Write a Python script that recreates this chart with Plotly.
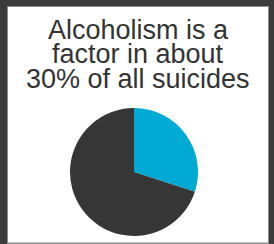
import plotly.graph_objects as go

W, H = 274, 244

labels = ["Alcoholism factor", "Other causes"]
values = [30, 70]
colors = ["#00AAD4", "#363636"]
title_lines = ["Alcoholism is a", "factor in about", "30% of all suicides"]

def px_x(x):
    return x / W

def px_y(y):
    return 1 - y / H

fig = go.Figure()

cx, cy, r = 134, 172, 64
fig.add_trace(go.Pie(
    labels=labels,
    values=values,
    sort=False,
    direction="clockwise",
    rotation=0,
    marker=dict(colors=colors, line=dict(width=0)),
    textinfo="none",
    hoverinfo="none",
    showlegend=False,
    domain=dict(x=[px_x(cx - r), px_x(cx + r)], y=[px_y(cy + r), px_y(cy - r)]),
))

shapes = [
    dict(type="rect", xref="paper", yref="paper", x0=0, x1=1, y0=0, y1=1,
         fillcolor="#3b3b3b", line=dict(width=0), layer="below"),
    dict(type="rect", xref="paper", yref="paper", x0=px_x(7), x1=px_x(269), y0=0, y1=px_y(6),
         fillcolor="#8c8c8c", line=dict(width=0), layer="below"),
    dict(type="rect", xref="paper", yref="paper", x0=px_x(8), x1=px_x(268), y0=px_y(242.5), y1=px_y(7),
         fillcolor="#ffffff", line=dict(width=0), layer="below"),
]

centers = [29.5, 54, 78.5]
annotations = []
for line, yc in zip(title_lines, centers):
    annotations.append(dict(
        text=line, x=px_x(138), y=px_y(yc), xref="paper", yref="paper",
        xanchor="center", yanchor="middle", showarrow=False,
        font=dict(family="Liberation Sans, Arial, sans-serif", size=27, color="#333333"),
    ))

fig.update_layout(
    width=W, height=H,
    margin=dict(l=0, r=0, t=0, b=0),
    paper_bgcolor="#ffffff",
    plot_bgcolor="#ffffff",
    shapes=shapes,
    annotations=annotations,
)

fig.write_html("out.html", config={"displayModeBar": False},
               post_script="document.body.style.margin='0';document.body.style.overflow='hidden';")
